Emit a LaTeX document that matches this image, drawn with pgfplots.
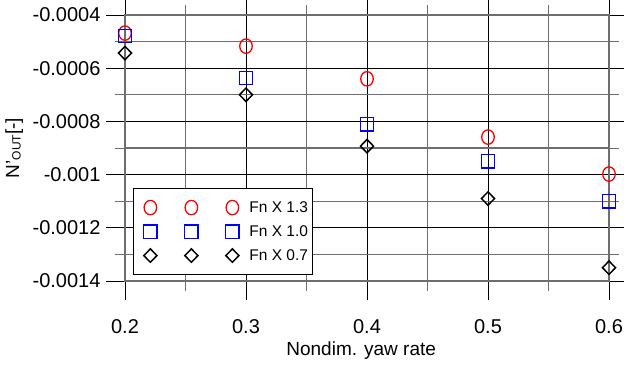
\documentclass[border=0pt]{standalone}
\usepackage{fontspec}
\setmainfont{Liberation Sans}
\usepackage{pgfplots}
\pgfplotsset{compat=1.18}
\definecolor{gridgray}{RGB}{110,110,110}
\definecolor{mred}{RGB}{255,0,0}
\definecolor{mblue}{RGB}{0,0,255}
\begin{document}
\begin{tikzpicture}
\begin{axis}[
  scale only axis,
  width=484pt, height=266pt,
  xmin=0.2, xmax=0.6, ymin=-0.0014, ymax=-0.0004,
  xtick={0.2,0.3,0.4,0.5,0.6},
  xticklabels={0.2,0.3,0.4,0.5,0.6},
  minor xtick={0.25,0.35,0.45,0.55},
  ytick={-0.0014,-0.0012,-0.001,-0.0008,-0.0006,-0.0004},
  yticklabels={-0.0014,-0.0012,-0.001,-0.0008,-0.0006,-0.0004},
  minor ytick={-0.0013,-0.0011,-0.0009,-0.0007,-0.0005},
  scaled y ticks=false,
  tick align=outside,
  major tick length=19pt,
  minor tick length=10pt,
  tick style={black, line width=0.8pt},
  minor tick style={gridgray, line width=1pt},
  xmajorgrids, ymajorgrids, xminorgrids, yminorgrids,
  major grid style={black, line width=0.7pt},
  minor grid style={gridgray, line width=1.2pt},
  axis line style={gridgray, line width=1.2pt},
  ticklabel style={font=\fontsize{20}{24}\selectfont},
  xticklabel style={yshift=-16pt},
  yticklabel style={xshift=-2pt},
  xlabel={Nondim. yaw rate},
  ylabel={N'\raisebox{-1.5pt}{\fontsize{12}{12}\selectfont OUT}[-]},
  every axis x label/.style={at={(axis description cs:0.488,-0.26)}, anchor=center, font=\fontsize{19}{22}\selectfont},
  every axis y label/.style={at={(axis description cs:-0.229,0.5)}, rotate=90, anchor=center, font=\fontsize{19}{22}\selectfont},
  legend style={at={(axis description cs:0.0165,0.0226)}, anchor=south west, draw=black, line width=0.8pt, fill=white,
    font=\fontsize{15.5}{18}\selectfont, inner xsep=2pt, inner ysep=7pt, row sep=0pt},
  legend cell align=left,
  legend image code/.code={\path[draw=none,fill=none] (-15pt,-12pt) rectangle (97pt,12pt);
    \draw[mark repeat=1,mark phase=1,#1] plot coordinates {(0pt,0pt)(41pt,0pt)(82pt,0pt)};},
]
\addplot[only marks, mark=o, mark size=7.2pt, mark options={xscale=0.87, line width=1.3pt, draw=mred}] coordinates {
 (0.2,-0.000468) (0.3,-0.000517) (0.4,-0.00064) (0.5,-0.000859) (0.6,-0.000998)};
\addlegendentry{Fn X 1.3}
\addplot[only marks, mark=square, mark size=6.7pt, mark options={line width=1.5pt, draw=mblue}] coordinates {
 (0.2,-0.000479) (0.3,-0.000637) (0.4,-0.00081) (0.5,-0.00095) (0.6,-0.0011)};
\addlegendentry{Fn X 1.0}
\addplot[only marks, mark=diamond, mark size=6.7pt, mark options={xscale=1.3, line width=1.5pt, draw=black}] coordinates {
 (0.2,-0.000543) (0.3,-0.0007) (0.4,-0.000893) (0.5,-0.00109) (0.6,-0.00135)};
\addlegendentry{Fn X 0.7}
\end{axis}
\pgfresetboundingbox
\path[use as bounding box] (-125pt,-86pt) rectangle (499pt,281pt);
\end{tikzpicture}
\end{document}
